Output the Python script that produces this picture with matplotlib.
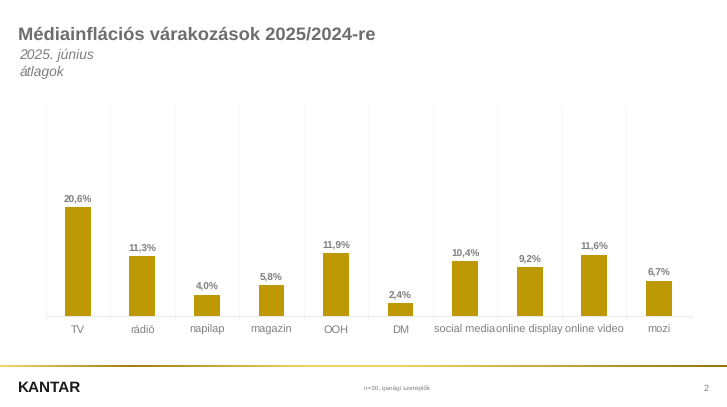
"""Media inflation expectations column chart."""

import matplotlib
import numpy as np
matplotlib.use('Agg')
import matplotlib.pyplot as plt
from matplotlib.colors import LinearSegmentedColormap

categories = ['TV', 'rádió', 'napilap', 'magazin', 'OOH', 'DM', 'social media', 'online display', 'online video', 'mozi']
values = [20.6, 11.3, 4.0, 5.8, 11.9, 2.4, 10.4, 9.2, 11.6, 6.7]
valueLabels = ['20,6%', '11,3%', '4,0%', '5,8%', '11,9%', '2,4%', '10,4%', '9,2%', '11,6%', '6,7%']

W, H = 727, 407
plt.rcParams['font.family'] = ['Liberation Sans', 'DejaVu Sans']
plt.rcParams['text.hinting'] = 'none'

fig = plt.figure(figsize=(W/100, H/100), dpi=100)

# Chart area, in pixels of the slide
left, right, top, bottom = 45.5, 691, 105, 316
ax = fig.add_axes([left/W, 1-bottom/H, (right-left)/W, (bottom-top)/H])
x = np.arange(len(categories))
ax.bar(x, values, width=0.4, color='#BD9A05', zorder=3)
for num, value in enumerate(values):
    ax.text(num, value+0.55, valueLabels[num], ha='center', va='bottom', fontsize=7.2,
            fontweight='bold', color='#7F7F7F')

ax.set_xlim(-0.5, len(categories)-0.5)
ax.set_ylim(0, 39.9)
ax.set_yticks([])
ax.set_xticks(x)
ax.set_xticklabels(categories, fontsize=7.9, color='#7F7F7F', va='baseline')
ax.set_xticks(np.arange(len(categories)+1)-0.5, minor=True)
ax.tick_params(axis='x', which='major', length=0, pad=12.2)
ax.tick_params(axis='x', which='minor', length=3, color='#F0F0F0', width=0.6)
ax.grid(True, axis='x', which='minor', color='#F7F7F7', linewidth=0.6, zorder=0)
for side in ('top', 'left', 'right'):
    ax.spines[side].set_visible(False)
ax.spines['bottom'].set_color('#E8E8E8')
ax.spines['bottom'].set_linewidth(0.7)

# Title block
fig.text(18/W, 1-35/H, 'Médiainflációs várakozások 2025/2024-re', fontsize=13.2, fontweight='bold',
         color='#6E6E6E', va='center')
fig.text(19.5/W, 1-55/H, '2025. június', fontsize=10, style='italic', color='#7F7F7F', va='center')
fig.text(19.5/W, 1-72/H, 'átlagok', fontsize=10, style='italic', color='#7F7F7F', va='center')

# Gold footer line
lineAx = fig.add_axes([0, 1-367.5/H, 1, 2.5/H])
goldMap = LinearSegmentedColormap.from_list('gold', [(0, '#F5D76E'), (0.18, '#A67C0A'), (0.42, '#F3D35F'),
                                                     (0.55, '#F3D35F'), (1, '#9A7408')])
lineAx.imshow(np.linspace(0, 1, 727).reshape(1, -1), aspect='auto', cmap=goldMap)
lineAx.axis('off')

# Footer
fig.text(18/W, 1-388/H, 'KANTAR', fontsize=11, fontweight='bold', color='#1A1A1A', va='center')
fig.text(364/W, 1-388.5/H, 'n=30, iparági szereplők', fontsize=4.6, color='#7F7F7F', va='center')
fig.text(706/W, 1-388.5/H, '2', fontsize=6.5, color='#7F7F7F', va='center', ha='center')

fig.savefig('out.png', dpi=100)
